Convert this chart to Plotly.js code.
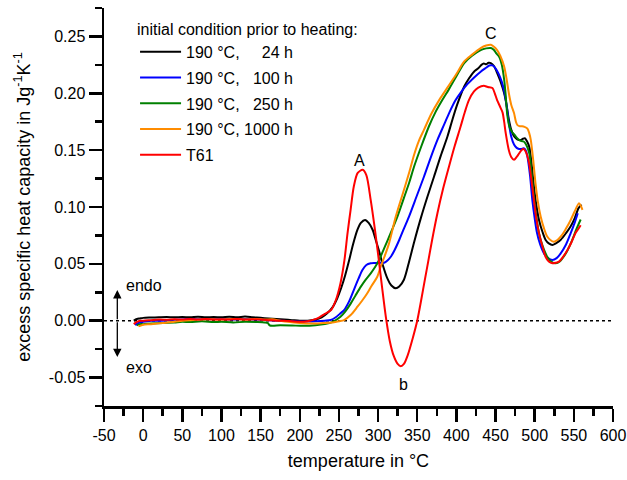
<!DOCTYPE html>
<html>
<head>
<meta charset="utf-8">
<script src="https://cdn.plot.ly/plotly-3.0.1.min.js"></script>
<style>html,body{margin:0;padding:0;background:#fff;}#chart{width:627px;height:480px;}</style>
</head>
<body>
<div id="chart"></div>
<script>
// Series: [temperature °C, excess specific heat capacity J/(g K)]
const h24 = [[-12,0.000],[-8,0.0015],[-4,0.002],[0,0.0025],[10,0.0028],[20,0.003],[30,0.0032],[40,0.003],[50,0.0033],[60,0.003],[70,0.0035],[80,0.003],[90,0.0033],[100,0.003],[110,0.0035],[120,0.003],[130,0.0036],[140,0.003],[150,0.0025],[160,0.002],[170,0.0015],[180,0.001],[190,0.0005],[200,0.0],[210,0.0],[220,0.001],[228,0.003],[235,0.0065],[242,0.012],[248,0.02],[253,0.029],[258,0.04],[263,0.053],[268,0.067],[273.7,0.080],[278,0.086],[283.4,0.0886],[288,0.086],[293,0.080],[297,0.071],[301,0.062],[306,0.049],[312,0.037],[317,0.031],[322.6,0.0285],[327,0.030],[333,0.036],[340,0.053],[346,0.069],[354.5,0.090],[363,0.109],[371.5,0.1268],[380,0.145],[388.6,0.162],[395,0.177],[401,0.190],[410,0.206],[416,0.213],[422.5,0.219],[428,0.222],[432,0.225],[435,0.2262],[438,0.2255],[441,0.2268],[444,0.2266],[448,0.224],[452,0.218],[456,0.211],[461,0.200],[464,0.190],[467,0.177],[470,0.168],[473,0.163],[476,0.1605],[479,0.159],[482,0.159],[485,0.160],[487.5,0.1605],[490,0.158],[493,0.153],[496,0.138],[499,0.118],[502,0.102],[505.5,0.0886],[510,0.078],[514,0.071],[518,0.068],[522.6,0.0666],[527,0.068],[533,0.071],[540,0.077],[546,0.083],[551,0.090],[556,0.099],[559.9,0.102]];

const h100 = [[-10,-0.004],[-6,-0.002],[0,-0.001],[10,0.0],[25,0.0],[40,0.0008],[50,0.001],[60,0.0015],[75,0.0012],[90,0.0015],[100,0.0015],[115,0.001],[130,0.0015],[145,0.001],[160,0.0005],[175,0.0],[190,-0.0005],[205,-0.0008],[220,-0.0005],[232,0.0],[239.6,0.0006],[246,0.003],[251,0.006],[256.6,0.0094],[263,0.017],[269,0.027],[275,0.037],[280,0.0446],[285,0.049],[290.6,0.0505],[296,0.0508],[301,0.051],[307.6,0.051],[312,0.053],[316,0.056],[321,0.062],[327,0.071],[333,0.081],[339.5,0.0916],[349,0.109],[358.7,0.1268],[367,0.143],[375.8,0.159],[384,0.172],[391,0.183],[399,0.194],[406,0.201],[414,0.208],[422,0.2135],[431,0.219],[438,0.2225],[442,0.2245],[446,0.2245],[450,0.222],[454,0.217],[458,0.210],[461,0.202],[464,0.190],[467,0.174],[470,0.162],[473.6,0.155],[477,0.152],[480,0.151],[483,0.151],[486,0.1517],[488.5,0.150],[490.7,0.1444],[494,0.128],[497,0.106],[500,0.090],[503,0.077],[507,0.067],[512,0.059],[517,0.055],[522.6,0.0534],[528,0.055],[533,0.059],[540,0.067],[546,0.077],[551,0.086],[555,0.0945]];

const h250 = [[-8,-0.004],[-4,-0.003],[0,-0.003],[10,-0.0025],[25,-0.002],[40,-0.0015],[50,-0.001],[60,-0.0012],[75,-0.0005],[90,-0.0012],[100,-0.001],[115,-0.0015],[130,-0.001],[145,-0.0012],[155,-0.0015],[159,-0.002],[162,-0.0042],[175,-0.004],[190,-0.0042],[205,-0.0045],[220,-0.004],[232,-0.003],[242,-0.001],[252,0.0035],[258,0.008],[265,0.015],[271,0.022],[278,0.030],[284,0.036],[290.6,0.0417],[296,0.047],[301,0.053],[308,0.064],[316,0.077],[324.7,0.0916],[333,0.108],[340,0.122],[346,0.1356],[355,0.153],[365,0.171],[373,0.183],[382,0.194],[390,0.203],[400,0.215],[410,0.2266],[420,0.233],[431,0.238],[438,0.2395],[444,0.2398],[448,0.238],[451,0.235],[454.4,0.2324],[458,0.225],[461,0.212],[463,0.198],[465,0.181],[468,0.170],[471,0.166],[473.6,0.164],[477,0.161],[480,0.159],[483,0.158],[486,0.1576],[489,0.155],[493,0.1474],[496,0.13],[499,0.109],[502,0.092],[505.5,0.077],[510,0.066],[516,0.0563],[521,0.052],[527,0.0505],[532,0.052],[537,0.0563],[542,0.062],[548,0.071],[553,0.080],[558.7,0.089]];

const h1000 = [[-6,-0.005],[-2,-0.004],[0,-0.0035],[10,-0.003],[25,-0.002],[40,-0.001],[50,0.0],[60,0.0005],[75,0.001],[90,0.0012],[100,0.001],[115,0.0015],[130,0.001],[145,0.0015],[155,0.001],[165,0.0012],[175,0.0],[185,-0.001],[200,-0.002],[215,-0.0025],[230,-0.002],[242,-0.0015],[250,-0.0005],[256.6,0.0006],[265,0.005],[273.7,0.0123],[280,0.018],[286,0.024],[292,0.031],[299,0.0387],[303,0.047],[308,0.056],[314,0.068],[322.6,0.0916],[333,0.115],[340,0.131],[346,0.146],[352,0.158],[358.7,0.168],[368,0.182],[378,0.194],[388.5,0.205],[400,0.217],[410,0.228],[420,0.234],[431,0.2398],[438,0.242],[444,0.2427],[448,0.241],[452,0.238],[456,0.233],[461,0.2236],[464,0.213],[467,0.200],[470,0.19],[473.6,0.1826],[476,0.175],[478,0.172],[481,0.171],[484,0.171],[487,0.1705],[490.7,0.169],[493,0.165],[495,0.159],[498,0.142],[501,0.121],[504,0.105],[507.7,0.0915],[512,0.081],[516,0.074],[520,0.071],[524.6,0.0695],[529,0.071],[535,0.0754],[540,0.081],[546,0.0886],[551,0.096],[556.6,0.1033],[559,0.101],[561,0.0975]];

const t61 = [[-12,-0.003],[-8,-0.001],[-4,0.0],[0,0.0],[10,0.0005],[20,0.001],[30,0.0008],[40,0.0012],[50,0.001],[60,0.0015],[70,0.001],[80,0.0015],[90,0.001],[100,0.0012],[110,0.001],[120,0.0015],[130,0.001],[140,0.0012],[150,0.001],[160,0.0005],[170,0.0],[180,0.0],[190,-0.0005],[200,-0.001],[210,-0.0005],[218,0.001],[225,0.003],[232,0.006],[240,0.0094],[246,0.018],[252,0.033],[257,0.053],[261,0.077],[265,0.098],[269,0.118],[274,0.130],[280.4,0.1327],[285,0.128],[290.6,0.106],[296,0.080],[301,0.053],[305,0.030],[310,0.003],[315,-0.018],[320,-0.031],[325,-0.038],[329,-0.040],[333,-0.038],[338,-0.030],[344,-0.016],[350,0.0],[355,0.018],[360,0.037],[364,0.052],[369,0.071],[375.8,0.0945],[383,0.116],[390.6,0.1356],[398,0.154],[405.5,0.171],[411,0.184],[416,0.194],[422.5,0.2016],[428,0.205],[435,0.2066],[440,0.2055],[446,0.2046],[449,0.200],[452,0.194],[456.6,0.187],[459,0.183],[461,0.175],[463,0.165],[467,0.150],[470,0.144],[473.6,0.1415],[477,0.144],[480,0.147],[483,0.150],[486,0.151],[489,0.148],[492.7,0.139],[496,0.123],[499,0.106],[502,0.090],[505.5,0.077],[510,0.065],[514,0.056],[518,0.052],[522.6,0.0505],[527,0.051],[531,0.052],[536,0.056],[541.7,0.062],[547,0.069],[552,0.077],[555,0.080],[558.7,0.084]];

const seriesNames = ['190\u00a0°C,\u00a0\u00a0\u00a0\u00a0\u00a024\u00a0h', '190\u00a0°C,\u00a0\u00a0\u00a0100\u00a0h', '190\u00a0°C,\u00a0\u00a0\u00a0250\u00a0h', '190\u00a0°C,\u00a01000\u00a0h', 'T61'];
const seriesColors = ['#000000', '#0000ff', '#008000', '#ff8c00', '#ff0000'];
const seriesData = [h24, h100, h250, h1000, t61];

const xTickVals = [-50, 0, 50, 100, 150, 200, 250, 300, 350, 400, 450, 500, 550, 600];
const xTickText = ['-50', '0', '50', '100', '150', '200', '250', '300', '350', '400', '450', '500', '550', '600'];
const yTickVals = [-0.05, 0, 0.05, 0.10, 0.15, 0.20, 0.25];
const yTickText = ['-0.05', '0.00', '0.05', '0.10', '0.15', '0.20', '0.25'];

const FONT = 'Liberation Sans, Arial, Helvetica, sans-serif';

const traces = seriesData.map((d, i) => ({
  x: d.map(p => p[0]),
  y: d.map(p => p[1]),
  name: seriesNames[i],
  type: 'scatter',
  mode: 'lines',
  line: {color: seriesColors[i], width: 2, shape: 'spline', smoothing: 0.8},
  legendgroup: 'g' + i
}));

const layout = {
  width: 627, height: 480,
  margin: {l: 104, r: 14, t: 8, b: 74},
  paper_bgcolor: '#ffffff', plot_bgcolor: '#ffffff',
  font: {family: FONT, size: 16, color: '#000'},
  showlegend: true,
  legend: {
    x: 0.061, y: 0.985, xanchor: 'left', yanchor: 'top',
    bgcolor: 'rgba(0,0,0,0)', borderwidth: 0,
    font: {family: FONT, size: 16, color: '#000'},
    title: {text: 'initial condition prior to heating:', font: {family: FONT, size: 16, color: '#000'}},
    itemwidth: 41,
    tracegroupgap: 2
  },
  xaxis: {
    range: [-50, 600], showgrid: false, zeroline: false,
    showline: true, linecolor: '#000', linewidth: 2.5,
    ticks: 'outside', ticklen: 13, tickwidth: 2.5, tickcolor: '#000',
    tickmode: 'array', tickvals: xTickVals, ticktext: xTickText,
    tickfont: {family: FONT, size: 16},
    minor: {ticks: 'outside', ticklen: 7, tickwidth: 2.5, tickcolor: '#000', tick0: -25, dtick: 50, showgrid: false},
    title: {text: 'temperature in °C', font: {family: FONT, size: 18}, standoff: 12}
  },
  yaxis: {
    range: [-0.075, 0.275], showgrid: false, zeroline: false,
    showline: true, linecolor: '#000', linewidth: 2.5,
    ticks: 'outside', ticklen: 13, tickwidth: 2.5, tickcolor: '#000',
    tickmode: 'array', tickvals: yTickVals, ticktext: yTickText,
    tickfont: {family: FONT, size: 16},
    minor: {ticks: 'outside', ticklen: 7, tickwidth: 2.5, tickcolor: '#000', tick0: -0.075, dtick: 0.05, showgrid: false},
    title: {text: 'excess specific heat capacity in Jg<sup>-1</sup>K<sup>-1</sup>', font: {family: FONT, size: 18}, standoff: 14}
  },
  shapes: [
    {type: 'line', xref: 'x', yref: 'y', x0: -50, x1: 600, y0: 0, y1: 0,
     line: {color: '#000', width: 1.5, dash: 'dot'}, layer: 'below'}
  ],
  annotations: [
    {x: -33, y: 0.027, ax: -33, ay: 0, xref: 'x', yref: 'y', axref: 'x', ayref: 'y',
     showarrow: true, arrowhead: 2, arrowsize: 1.3, arrowwidth: 1.3, arrowcolor: '#000', text: ''},
    {x: -33, y: -0.032, ax: -33, ay: 0, xref: 'x', yref: 'y', axref: 'x', ayref: 'y',
     showarrow: true, arrowhead: 2, arrowsize: 1.3, arrowwidth: 1.3, arrowcolor: '#000', text: ''},
    {x: -24, y: 0.0314, xref: 'x', yref: 'y', text: 'endo', showarrow: false, xanchor: 'left', yanchor: 'middle', font: {family: FONT, size: 16}},
    {x: -24, y: -0.0408, xref: 'x', yref: 'y', text: 'exo', showarrow: false, xanchor: 'left', yanchor: 'middle', font: {family: FONT, size: 16}},
    {x: 275.7, y: 0.141, xref: 'x', yref: 'y', text: 'A', showarrow: false, yanchor: 'middle', font: {family: FONT, size: 16}},
    {x: 332.4, y: -0.0557, xref: 'x', yref: 'y', text: 'b', showarrow: false, yanchor: 'middle', font: {family: FONT, size: 16}},
    {x: 444.7, y: 0.253, xref: 'x', yref: 'y', text: 'C', showarrow: false, yanchor: 'middle', font: {family: FONT, size: 16}}
  ]
};

Plotly.newPlot('chart', traces, layout, {displayModeBar: false, staticPlot: true});
</script>
</body>
</html>
